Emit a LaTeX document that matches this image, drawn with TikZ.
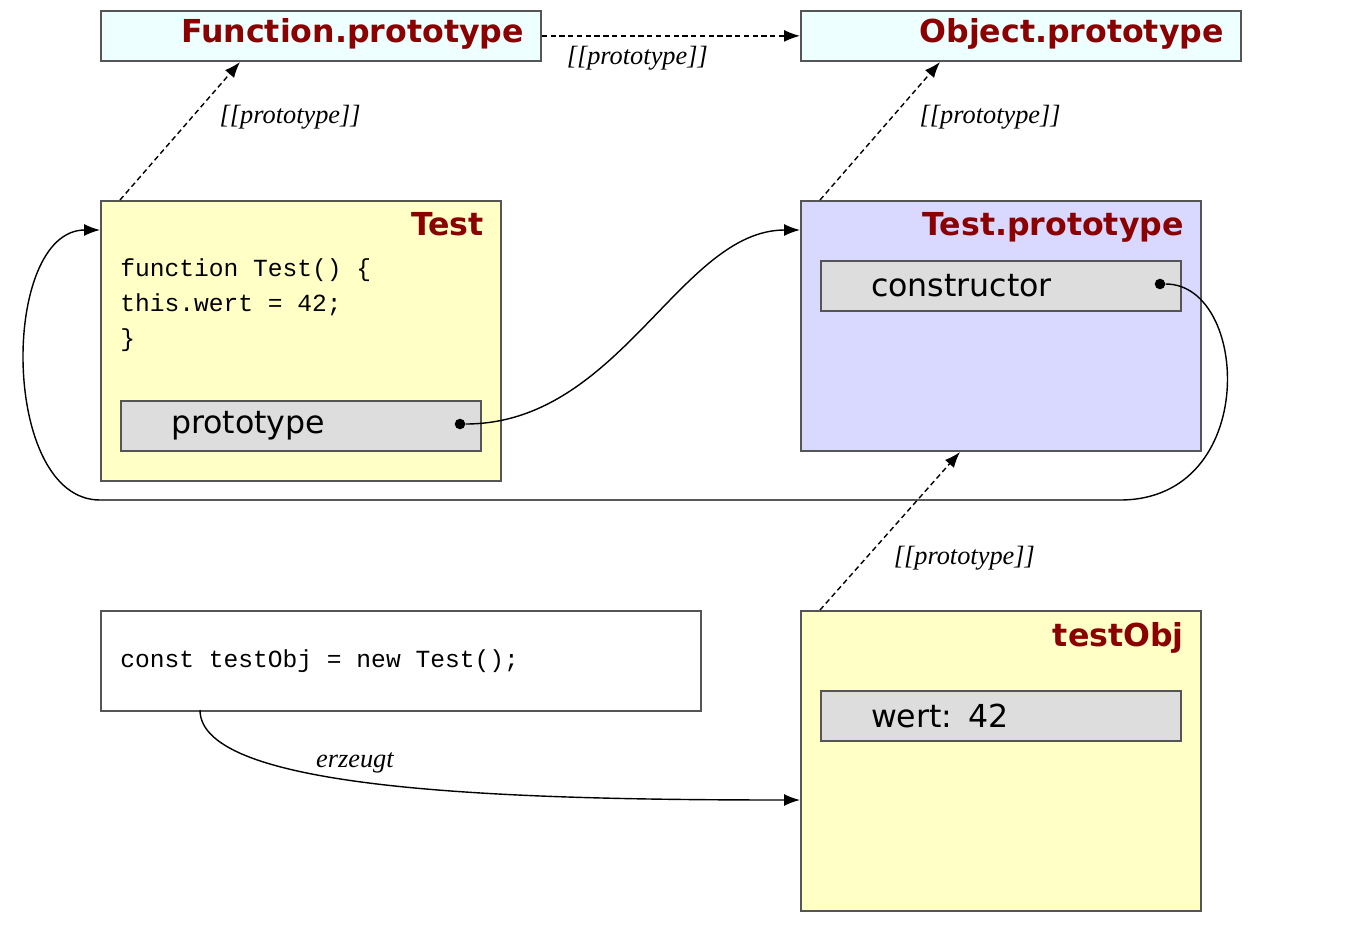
\documentclass[tikz,border=0pt]{standalone}
\usepackage{fontspec}
\setmainfont{Liberation Serif}
\setsansfont{DejaVu Sans}
\setmonofont{Liberation Mono}
\usetikzlibrary{arrows.meta}
\usetikzlibrary{positioning}

\definecolor{titlered}{HTML}{8B0000}
\definecolor{boxcyan}{HTML}{EEFFFF}
\definecolor{boxyellow}{HTML}{FFFFC6}
\definecolor{boxblue}{HTML}{D9D9FF}
\definecolor{slotgray}{HTML}{DDDDDD}
\definecolor{edgegray}{HTML}{555555}

\begin{document}
\begin{tikzpicture}[x = 0.02cm, y = -0.02cm,
  Box/.style = {draw = edgegray, line width = 1pt, anchor = north west,
                inner sep = 0pt, minimum width = #1},
  Slot/.style = {Box = 360*0.02cm, fill = slotgray, minimum height = 50*0.02cm,
                 font = \sffamily\fontsize{18}{18}\selectfont,
                 text width = 330*0.02cm, align = left},
  Title/.style = {anchor = north east, text = titlered,
                  font = \sffamily\bfseries\fontsize{18}{18}\selectfont},
  Proto/.style = {-{Latex[length=9pt]}, densely dashed, line width = 0.8pt},
  Link/.style = {-{Latex[length=9pt]}, line width = 0.8pt},
  Lbl/.style = {font = \itshape\fontsize{15}{15}\selectfont},
  Dot/.style = {circle, fill, inner sep = 0pt, minimum size = 6pt}]
\useasboundingbox (0,0) rectangle (1360,940);

% boxes
\node[Box = 440*0.02cm, fill = boxcyan, minimum height = 50*0.02cm] (fp) at (100,10) {};
\node[Box = 440*0.02cm, fill = boxcyan, minimum height = 50*0.02cm] (op) at (800,10) {};
\node[Box = 400*0.02cm, fill = boxyellow, minimum height = 280*0.02cm] (test) at (100,200) {};
\node[Box = 400*0.02cm, fill = boxblue, minimum height = 250*0.02cm] (tp) at (800,200) {};
\node[Box = 600*0.02cm, fill = white, minimum height = 100*0.02cm] (code) at (100,610) {};
\node[Box = 400*0.02cm, fill = boxyellow, minimum height = 300*0.02cm] (obj) at (800,610) {};

% titles
\node[Title] (fpt) at (530,12) {Function.prototype};
\node[Title] (opt) at (1230,12) {Object.prototype};
\node[Title] (testt) at (490,206) {Test};
\node[Title] (tpt) at (1190,206) {Test.prototype};
\node[Title] (objt) at (1190,616) {testObj};

% content
\node[anchor = north west, align = left, inner sep = 0pt,
      font = \ttfamily\fontsize{14}{20}\selectfont] (src) at (120,258)
  {function Test() \{\\this.wert = 42;\\\}};
\node[anchor = west, inner sep = 0pt, font = \ttfamily\fontsize{14}{14}\selectfont]
  (stmt) at (120,661) {const testObj = new Test();};
\node[Slot] (pslot) at (120,400) {\hspace*{20\pgflinewidth}prototype};
\node[Slot] (cslot) at (820,260) {\hspace*{20\pgflinewidth}constructor};
\node[Slot] (wslot) at (820,690) {\hspace*{20\pgflinewidth}wert: 42};
\node[Dot] (pdot) at (460,424) {};
\node[Dot] (cdot) at (1160,284) {};
\coordinate (testin) at (100,230);
\coordinate (tpin) at (800,230);
\coordinate (objin) at (800,800);
\coordinate (codeout) at (200,710);

% prototype chain
\draw[Proto] (120,200) -- (240,62) node[Lbl, pos = 0.6, right = 12pt] {[[prototype]]};
\draw[Proto] (820,200) -- (940,62) node[Lbl, pos = 0.6, right = 12pt] {[[prototype]]};
\draw[Proto] (fp.east) -- (op.west) node[Lbl, pos = 0.37, below = 2pt] {[[prototype]]};
\draw[Proto] (820,610) -- (960,452) node[Lbl, pos = 0.33, right = 12pt] {[[prototype]]};

% references
\draw[Link] (pdot) .. controls (620,424) and (680,230) .. (tpin);
\draw[Link] (cdot) .. controls (1250,284) and (1260,500) .. (1120,500)
  -- (100,500) .. controls (0,500) and (0,230) .. (testin);
\draw[Link] (codeout) .. controls (200,790) and (500,800) .. (objin)
  node[Lbl, pos = 0.45, above = 1pt] {erzeugt};
\end{tikzpicture}
\end{document}
